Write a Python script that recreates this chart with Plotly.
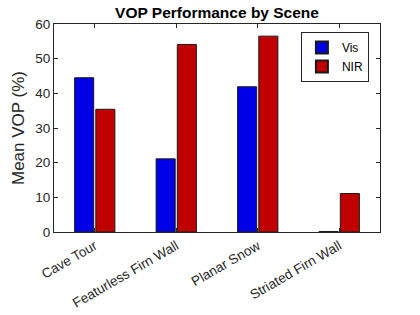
import plotly.graph_objects as go

categories = ["Cave Tour", "Featurless Firn Wall", "Planar Snow", "Striated Firn Wall"]
vis_values = [44.5, 21.1, 41.9, 0.15]
nir_values = [35.4, 54.1, 56.5, 11.1]
y_ticks = [0, 10, 20, 30, 40, 50, 60]

font_family = "Liberation Sans, Arial, Helvetica, sans-serif"
axis_color = "#262626"

fig = go.Figure()
fig.add_trace(go.Bar(x=categories, y=vis_values, name="Vis",
                     marker=dict(color="#0000e6", line=dict(color="#1a1a1a", width=1))))
fig.add_trace(go.Bar(x=categories, y=nir_values, name="NIR",
                     marker=dict(color="#c00000", line=dict(color="#1a1a1a", width=1))))

fig.update_layout(
    width=420, height=315,
    margin=dict(l=54, r=40, t=24, b=83, autoexpand=False),
    paper_bgcolor="white", plot_bgcolor="white",
    barmode="group", bargap=0.48, bargroupgap=0.1,
    font=dict(family=font_family, size=13, color=axis_color),
    title=dict(text="<b>VOP Performance by Scene</b>", x=217 / 420, xref="container",
               xanchor="center", y=1 - 13 / 315, yref="container", yanchor="middle",
               font=dict(size=15.5, color="black")),
    showlegend=True,
    legend=dict(x=0.966, y=0.962, xanchor="right", yanchor="top",
                bgcolor="white", bordercolor=axis_color, borderwidth=1,
                font=dict(size=12, color="black"), tracegroupgap=0,
                itemwidth=30, itemsizing="constant"),
)
fig.update_xaxes(
    type="category", range=[-0.5, 3.5], tickangle=-30,
    showline=True, linecolor=axis_color, linewidth=1, mirror="ticks",
    ticks="inside", ticklen=4, tickcolor=axis_color, showgrid=False,
    tickfont=dict(size=13.5, color=axis_color), automargin=False,
)
fig.update_yaxes(
    range=[0, 60], tickvals=y_ticks, showline=True, linecolor=axis_color,
    linewidth=1, mirror="ticks", ticks="inside", ticklen=4, tickcolor=axis_color,
    showgrid=False, zeroline=False, tickfont=dict(size=13.5, color=axis_color),
    title=dict(text="Mean VOP (%)", font=dict(size=17, color=axis_color), standoff=6),
    automargin=False,
)

fig.write_html("out.html", config={"displayModeBar": False},
               post_script="document.body.style.margin='0';")
